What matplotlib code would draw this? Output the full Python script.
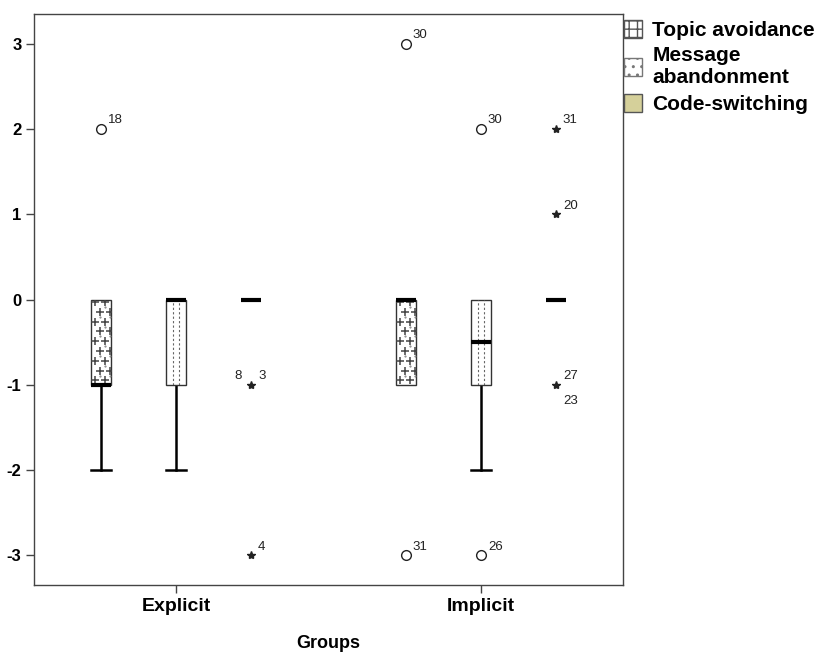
import numpy as np
import matplotlib.pyplot as plt
from matplotlib.patches import Patch

plt.rcParams['font.family'] = ['Liberation Sans', 'DejaVu Sans']
plt.rcParams['axes.unicode_minus'] = False

groups = ['Explicit', 'Implicit']
measures = ['Topic avoidance', 'Message\nabandonment', 'Code-switching']

# summary stats per group, per measure: q1, median, q3, lower whisker, upper whisker
q1 = [[-1, -1, 0], [-1, -1, 0]]
med = [[-1, 0, 0], [0, -0.5, 0]]
q3 = [[0, 0, 0], [0, 0, 0]]
wlo = [[-2, -2, 0], [-1, -2, 0]]
whi = [[0, 0, 0], [0, 0, 0]]

# outliers (circles) and extremes (stars): (group, measure, value, case label)
outliers = [(0, 0, 2, '18'), (1, 0, 3, '30'), (1, 0, -3, '31'),
            (1, 1, 2, '30'), (1, 1, -3, '26')]
extremes = [(0, 2, -1, '3'), (0, 2, -3, '4'),
            (1, 2, 2, '31'), (1, 2, 1, '20'), (1, 2, -1, '27')]
# extra case labels stacked on an extreme point
extra_labels = [(0, 2, -1, '8', 'left'), (1, 2, -1, '23', 'below')]

offset = 0.246
width = 0.066
khaki = '#d5d09a'

fig = plt.figure(figsize=(8.21, 6.54), dpi=100)
ax = fig.add_axes([34 / 821, 1 - 585 / 654, 589 / 821, 571 / 654])


def xpos(g, m):
    return g + (m - 1) * offset


for g in range(len(groups)):
    for m in range(len(measures)):
        x = xpos(g, m)
        lo, hi = q1[g][m], q3[g][m]
        face = khaki if m == 2 else 'white'
        if hi > lo:
            rect = plt.Rectangle((x - width / 2, lo), width, hi - lo,
                                 facecolor=face, edgecolor='#333333', lw=1.0, zorder=2)
            ax.add_patch(rect)
            if m == 0:
                # staggered plus-sign fill
                ys = np.arange(lo + 0.05, hi, 0.115)
                px, py = [], []
                for i, yy in enumerate(ys):
                    for xx in ([-0.3, 0.2] if i % 2 == 0 else [-0.05, 0.45]):
                        px.append(x + xx * width)
                        py.append(yy)
                pts = ax.scatter(px, py, marker='+', s=26, color='#444444',
                                 linewidths=1.1, zorder=3)
                pts.set_clip_path(rect)
                dots = ax.scatter([p + 0.25 * width for p in px], [p + 0.057 for p in py],
                                  marker='.', s=1, color='#777777', zorder=3)
                dots.set_clip_path(rect)
            elif m == 1:
                for dx in (-width / 6, width / 6):
                    ln, = ax.plot([x + dx, x + dx], [lo, hi], ls=(0, (2, 2)),
                                  color='#666666', lw=0.8, zorder=3)
                    ln.set_clip_path(rect)
        # whiskers
        if wlo[g][m] < lo:
            ax.plot([x, x], [wlo[g][m], lo], color='black', lw=1.8, zorder=1)
            ax.plot([x - width / 2, x + width / 2], [wlo[g][m]] * 2, color='black', lw=1.8)
        if whi[g][m] > hi:
            ax.plot([x, x], [hi, whi[g][m]], color='black', lw=1.8, zorder=1)
            ax.plot([x - width / 2, x + width / 2], [whi[g][m]] * 2, color='black', lw=1.8)
        # median
        ax.plot([x - width / 2, x + width / 2], [med[g][m]] * 2, color='black',
                lw=3.0, solid_capstyle='butt', zorder=4)

for g, m, v, lab in outliers:
    x = xpos(g, m)
    ax.plot(x, v, 'o', ms=7, mfc='white', mec='#222222', mew=1.0, zorder=5)
    ax.annotate(lab, (x, v), xytext=(5, 4), textcoords='offset points',
                fontsize=9.5, color='#222222')

for g, m, v, lab in extremes:
    x = xpos(g, m)
    ax.plot(x, v, '*', ms=6, color='#222222', zorder=5)
    ax.annotate(lab, (x, v), xytext=(5, 4), textcoords='offset points',
                fontsize=9.5, color='#222222')

for g, m, v, lab, where in extra_labels:
    x = xpos(g, m)
    xy = (-12, 4) if where == 'left' else (5, -14)
    ax.annotate(lab, (x, v), xytext=xy, textcoords='offset points',
                fontsize=9.5, color='#222222')

ax.set_xlim(-0.466, 1.466)
ax.set_ylim(-3.35, 3.35)
ax.set_yticks([-3, -2, -1, 0, 1, 2, 3])
ax.set_xticks(range(len(groups)))
ax.set_xticklabels(groups, fontsize=14, fontweight='bold')
for t in ax.get_yticklabels():
    t.set_fontsize(12)
    t.set_fontweight('bold')
ax.tick_params(direction='out', length=5.5, width=1, color='#444444')
ax.tick_params(axis='x', pad=4)
for s in ax.spines.values():
    s.set_color('#444444')
    s.set_linewidth(1.0)
ax.set_xlabel('Groups', fontsize=13, fontweight='bold', labelpad=14)

handles = [Patch(facecolor='white', edgecolor='#555555', hatch='++'),
           Patch(facecolor='white', edgecolor='#777777', hatch='..'),
           Patch(facecolor=khaki, edgecolor='#555555')]
fig.legend(handles, measures, loc='upper left', bbox_to_anchor=(624 / 821, 1 - 20 / 654),
           frameon=False, handlelength=0.85, handleheight=0.95,
           handletextpad=0.5, labelspacing=0.3, borderaxespad=0, borderpad=0,
           prop={'weight': 'bold', 'size': 15})

fig.savefig('out.png', dpi=100)
